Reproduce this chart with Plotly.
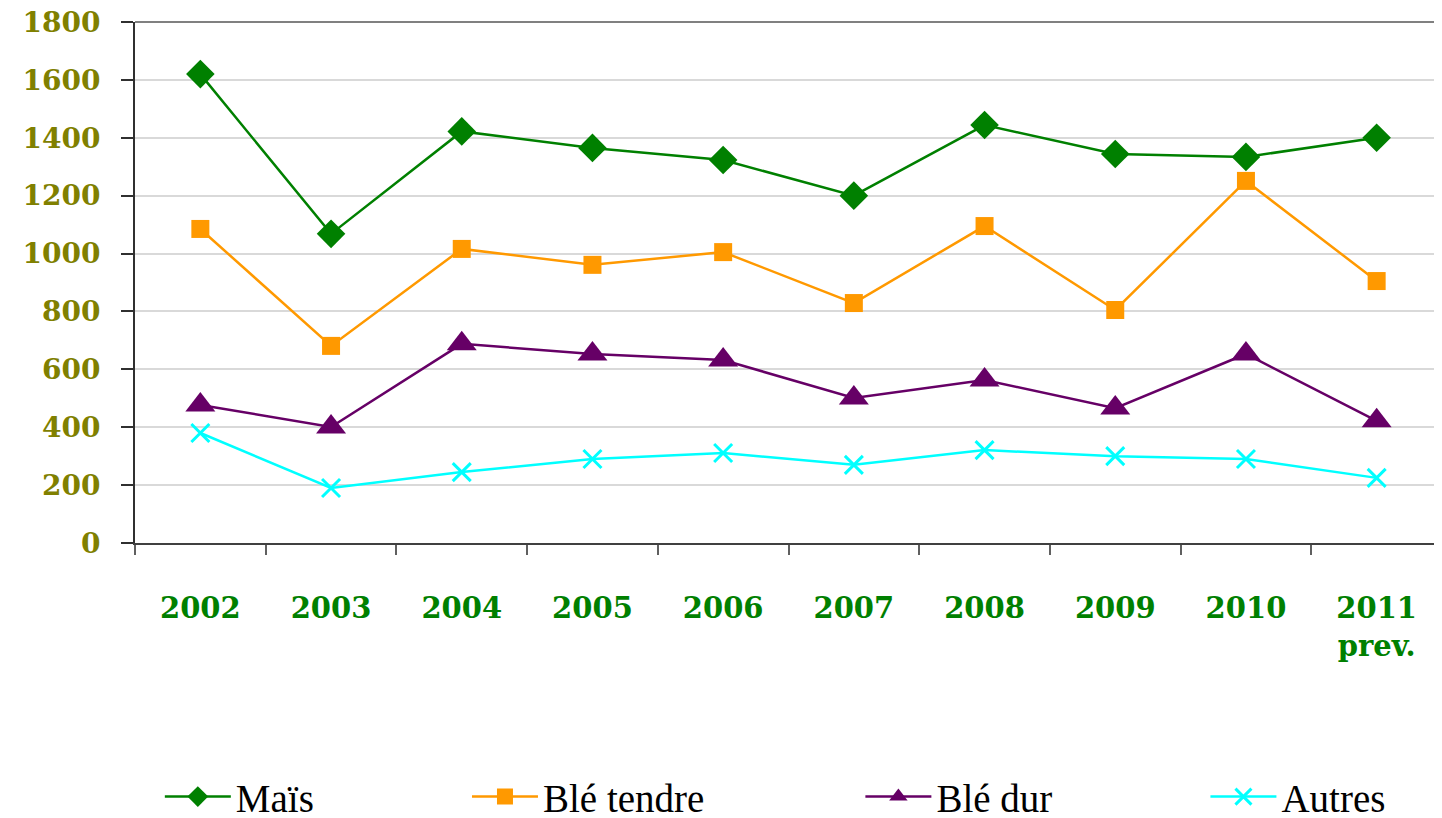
import plotly.graph_objects as go

categories = ["2002", "2003", "2004", "2005", "2006", "2007", "2008", "2009", "2010", "2011<br>prev."]
mais = [1620, 1068, 1422, 1365, 1323, 1200, 1444, 1344, 1334, 1400]
ble_tendre = [1085, 681, 1016, 961, 1005, 829, 1095, 805, 1251, 905]
ble_dur = [477, 401, 688, 653, 632, 501, 563, 466, 653, 422]
autres = [380, 190, 245, 290, 311, 270, 321, 300, 290, 225]

series = [
    ("Maïs", mais, "#008000", "diamond", 22, "legend", 0.019),
    ("Blé tendre", ble_tendre, "#FF9900", "square", 18, "legend2", 0.254),
    ("Blé dur", ble_dur, "#660066", "triangle-up", 26, "legend3", 0.555),
    ("Autres", autres, "#00FFFF", "x-thin", 18, "legend4", 0.819),
]

fig = go.Figure()
legends = {}
for name, vals, color, sym, size, leg, lx in series:
    fig.add_trace(go.Scatter(
        x=categories, y=vals, name=name, mode="lines+markers",
        line=dict(color=color, width=2.5),
        marker=dict(symbol=sym, size=size, color=color,
                    line=dict(color=color, width=3 if sym == "x-thin" else 0)),
        legend=leg,
    ))
    legends[leg] = dict(orientation="h", x=lx, xanchor="left", y=-0.487, yanchor="middle",
                        font=dict(family="Liberation Serif", size=39, color="black"),
                        itemwidth=66, bgcolor="rgba(0,0,0,0)")

fig.update_layout(
    width=1434, height=810,
    margin=dict(l=127, r=0, t=14, b=275, autoexpand=False),
    paper_bgcolor="white", plot_bgcolor="white",
    showlegend=True,
    shapes=[dict(type="line", xref="paper", yref="paper", x0=0, x1=1, y0=1, y1=1,
                 line=dict(color="#808080", width=2))],
    **legends,
)

fig.update_xaxes(
    type="category", range=[-0.5, 9.5], automargin=False,
    showline=True, linecolor="#404040", linewidth=2,
    ticks="outside", tickson="boundaries", ticklen=10, tickcolor="#606060", tickwidth=1.5,
    showgrid=False,
    tickfont=dict(family="DejaVu Serif", size=29, color="#008000", weight="bold"),
    ticklabelstandoff=38,
)
fig.update_yaxes(
    range=[0, 1800], dtick=200, automargin=False,
    showline=True, linecolor="#303030", linewidth=2,
    ticks="outside", ticklen=12, tickcolor="#303030", tickwidth=1.5,
    showgrid=True, gridcolor="#D9D9D9", gridwidth=1.5,
    zeroline=False, ticklabeloverflow="allow",
    tickfont=dict(family="DejaVu Serif", size=28, color="#808000", weight="bold"),
    ticklabelstandoff=15,
)

fig.write_html("out.html")
